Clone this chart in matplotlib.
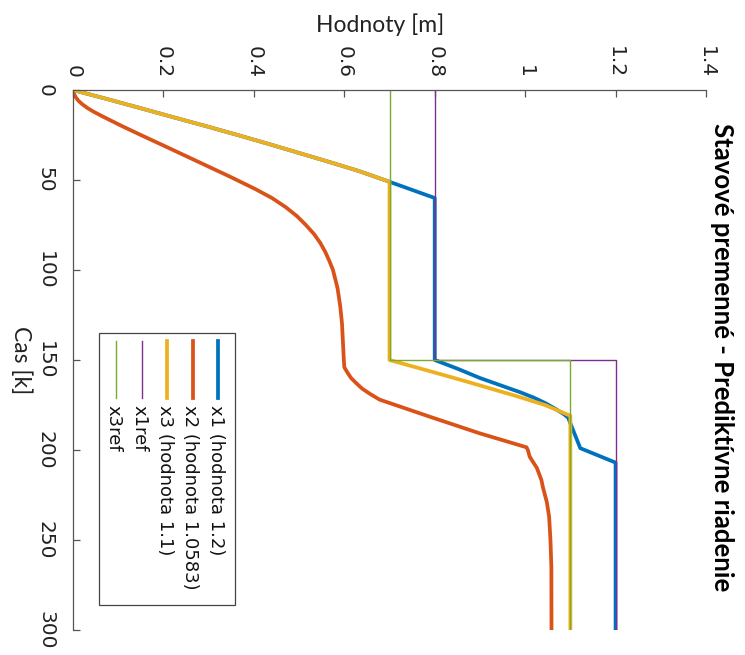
import matplotlib
matplotlib.use('Agg')
import matplotlib.pyplot as plt
from matplotlib.patches import Rectangle
from matplotlib.lines import Line2D

# x1 - prvy stav
t_x1 = [0, 5, 10, 15, 20, 25, 30, 35, 40, 45, 51, 60, 150, 155, 160, 164, 168, 171, 174, 177,
        180, 182, 199, 207, 300]
x1 = [0, 0.075, 0.148, 0.22, 0.293, 0.364, 0.433, 0.5, 0.567, 0.632, 0.7, 0.8, 0.8,
      0.852, 0.9, 0.945, 0.99, 1.02, 1.045, 1.066, 1.085, 1.095, 1.122, 1.2, 1.2]

# x2 - druhy stav
t_x2 = [0, 2, 4, 6, 8, 10, 12, 15, 20, 25, 32, 40, 48, 55, 60, 65, 70, 75, 80, 85, 90, 95, 100,
        110, 120, 130, 140, 150,
        154, 157, 160, 163, 166, 169, 172, 181.5, 190.7, 198.5, 200, 203.7, 206.5, 210, 216.7,
        220.4, 229, 237, 250, 265, 300]
x2 = [0, 0.002, 0.006, 0.012, 0.021, 0.032, 0.045, 0.068, 0.108, 0.15, 0.21, 0.278, 0.346,
      0.403, 0.44, 0.47, 0.495, 0.515, 0.533, 0.547, 0.558, 0.567, 0.575,
      0.585, 0.591, 0.595, 0.597, 0.599,
      0.6, 0.607, 0.615, 0.627, 0.64, 0.658, 0.678, 0.789, 0.899, 1.003, 1.006, 1.01, 1.017,
      1.026, 1.036, 1.039, 1.048, 1.053, 1.056, 1.058, 1.0583]

# x3 - treti stav
t_x3 = [0, 5, 10, 15, 20, 25, 30, 35, 40, 45, 51, 150, 155, 160, 165, 170, 175, 181, 300]
x3 = [0, 0.075, 0.148, 0.22, 0.293, 0.364, 0.433, 0.5, 0.567, 0.632, 0.7, 0.7,
      0.772, 0.843, 0.912, 0.98, 1.044, 1.1, 1.1]

# referencie
t_ref = [0, 150, 150, 300]
x1ref = [0.8, 0.8, 1.2, 1.2]
x3ref = [0.7, 0.7, 1.1, 1.1]

names = ['x1 (hodnota 1.2)', 'x2 (hodnota 1.0583)', 'x3 (hodnota 1.1)', 'x1ref', 'x3ref']
colors = ['#0072BD', '#D95319', '#EDB120', '#7E2F8E', '#77AC30']
widths = [2.7, 2.7, 2.7, 1.0, 1.0]

value_ticks = [0, 0.2, 0.4, 0.6, 0.8, 1.0, 1.2, 1.4]
value_labels = ['0', '0.2', '0.4', '0.6', '0.8', '1', '1.2', '1.4']
time_ticks = [0, 50, 100, 150, 200, 250, 300]

if __name__ == "__main__":

    axcol = '#555555'
    fig = plt.figure(figsize=(7.45, 6.55), dpi=100)
    ax = fig.add_axes([73 / 745., 1 - 630 / 655., 633 / 745., 540 / 655.])

    # graf je otoceny: cas ide zhora nadol, hodnoty zlava doprava
    series = [(x1, t_x1), (x2, t_x2), (x3, t_x3), (x1ref, t_ref), (x3ref, t_ref)]
    for (vals, tt), col, lw in zip(series, colors, widths):
        ax.plot(vals, tt, color=col, lw=lw, solid_joinstyle='round')

    ax.set_xlim(0, 1.4)
    ax.set_ylim(300, 0)
    ax.set_xticks(value_ticks)
    ax.set_xticklabels(value_labels)
    ax.set_yticks(time_ticks)
    ax.xaxis.tick_top()
    ax.xaxis.set_label_position('top')

    for side in ['right', 'bottom']:
        ax.spines[side].set_visible(False)
    for side in ['top', 'left']:
        ax.spines[side].set_color(axcol)
        ax.spines[side].set_linewidth(0.9)

    ax.tick_params(axis='both', direction='in', length=5, width=0.9, color=axcol,
                   labelsize=14.5, labelcolor='#222222')
    ax.tick_params(axis='x', labelrotation=-90, pad=8.5)
    ax.tick_params(axis='y', labelrotation=-90, pad=13)
    for lab in ax.get_yticklabels():
        lab.set_va('center')

    ax.set_xlabel('Hodnoty [m]', family='Lato', fontsize=16.5, color='#222222', labelpad=10)
    ax.xaxis.label.set_x(0.485)
    ax.set_ylabel('Cas [k]', family='Lato', fontsize=16.5, color='#222222',
                  rotation=-90, va='top', labelpad=3)

    fig.text(722 / 745., 1 - 357 / 655., 'Stavové premenné - Prediktívne riadenie',
             rotation=-90, ha='center', va='center', family='Lato', fontweight='bold',
             fontsize=18.5, color='black')

    # legenda (otocena)
    ax.add_patch(Rectangle((0.0411, 0.0463), 0.2148, 0.5037, transform=ax.transAxes,
                           facecolor='white', edgecolor='#444444', lw=0.9, zorder=5))
    for i, (name, col, lw) in enumerate(zip(names, colors, widths)):
        xx = 0.2295 - i * 0.0404
        ax.add_line(Line2D([xx, xx], [0.5352, 0.4296], transform=ax.transAxes,
                           color=col, lw=lw, zorder=6))
        ax.text(xx - 0.004, 0.4167, name, transform=ax.transAxes, rotation=-90,
                ha='center', va='top', fontsize=13, color='#111111', zorder=6)

    fig.savefig('out.png', dpi=100)
